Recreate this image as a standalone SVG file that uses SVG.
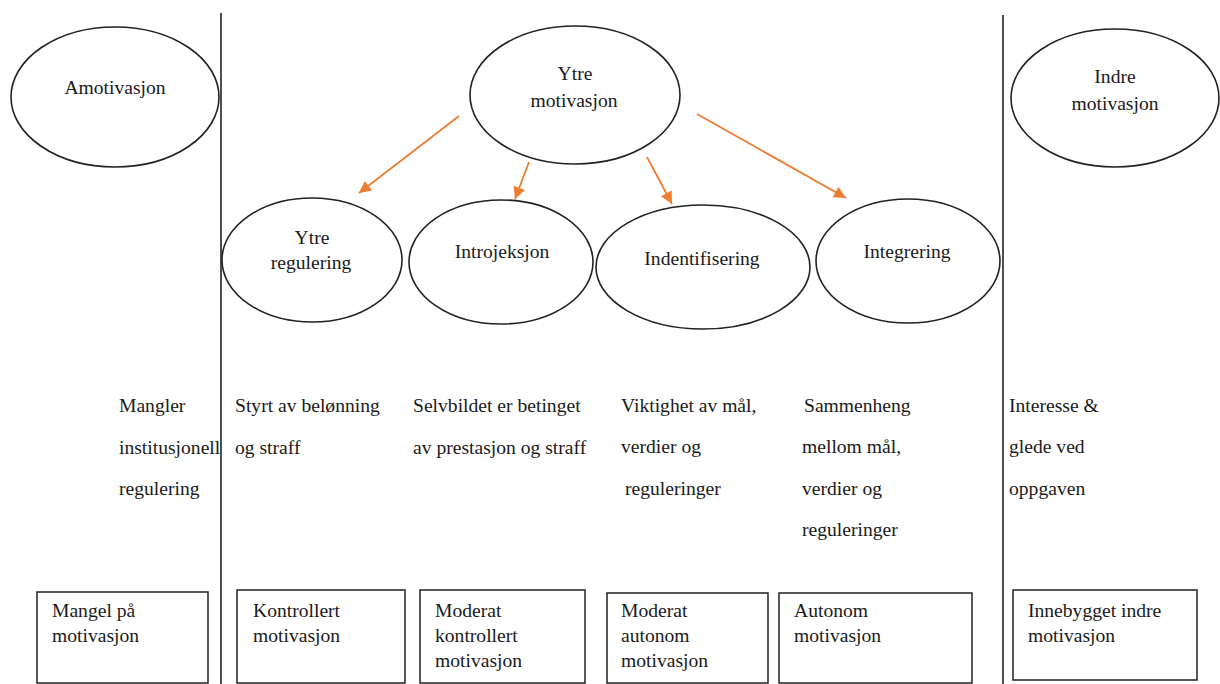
<svg xmlns="http://www.w3.org/2000/svg" width="1220" height="684" viewBox="0 0 1220 684">
<defs>
<marker id="ah" viewBox="0 0 10 10" refX="10" refY="5" markerWidth="15" markerHeight="12" markerUnits="userSpaceOnUse" orient="auto">
<path d="M0,0 L10,5 L0,10 z" fill="#ED7D31"/>
</marker>
<style>
.t{font-family:"Liberation Serif","Times New Roman",serif;font-size:19.6px;fill:#1a1a1a}
.c{text-anchor:middle}
.e{fill:none;stroke:#222;stroke-width:1.6}
.b{fill:#fff;stroke:#222;stroke-width:1.5}
.v{stroke:#222;stroke-width:1.6}
.a{stroke:#ED7D31;stroke-width:1.8;fill:none}
</style>
</defs>
<rect width="1220" height="684" fill="#fff"/>
<g id="dividers">
<line class="v" x1="221" y1="13" x2="221" y2="684"/>
<line class="v" x1="1003" y1="15" x2="1003" y2="684"/>
</g>
<g id="connectors">
<line class="a" x1="459" y1="116" x2="359" y2="193" marker-end="url(#ah)"/>
<line class="a" x1="529" y1="162" x2="515" y2="199" marker-end="url(#ah)"/>
<line class="a" x1="647" y1="157" x2="672" y2="204" marker-end="url(#ah)"/>
<line class="a" x1="697" y1="114" x2="846" y2="198" marker-end="url(#ah)"/>
</g>
<g id="n-amotivasjon">
<ellipse class="e" cx="115" cy="97" rx="104" ry="70"/>
<text class="t c" x="115" y="94">Amotivasjon</text>
</g>
<g id="n-ytre-motivasjon">
<ellipse class="e" cx="575" cy="95" rx="105" ry="69"/>
<text class="t c" x="575" y="80">Ytre</text>
<text class="t c" x="574" y="107">motivasjon</text>
</g>
<g id="n-indre-motivasjon">
<ellipse class="e" cx="1115" cy="98" rx="104" ry="69"/>
<text class="t c" x="1115" y="83">Indre</text>
<text class="t c" x="1115" y="110">motivasjon</text>
</g>
<g id="n-ytre-regulering">
<ellipse class="e" cx="312" cy="260" rx="90" ry="62"/>
<text class="t c" x="312" y="244">Ytre</text>
<text class="t c" x="311" y="269">regulering</text>
</g>
<g id="n-introjeksjon">
<ellipse class="e" cx="501" cy="262" rx="92" ry="62"/>
<text class="t c" x="502" y="258">Introjeksjon</text>
</g>
<g id="n-indentifisering">
<ellipse class="e" cx="703" cy="267" rx="107" ry="62"/>
<text class="t c" x="702" y="265">Indentifisering</text>
</g>
<g id="n-integrering">
<ellipse class="e" cx="908" cy="261" rx="92" ry="62"/>
<text class="t c" x="907" y="258">Integrering</text>
</g>
<g id="desc-amotivasjon">
<text class="t" x="119" y="412">Mangler</text>
<text class="t" x="119" y="454">institusjonell</text>
<text class="t" x="119" y="495">regulering</text>
</g>
<g id="desc-ytre">
<text class="t" x="235" y="412">Styrt av belønning</text>
<text class="t" x="235" y="454">og straff</text>
</g>
<g id="desc-introjeksjon">
<text class="t" x="413" y="412">Selvbildet er betinget</text>
<text class="t" x="413" y="454">av prestasjon og straff</text>
</g>
<g id="desc-identifisering">
<text class="t" x="621" y="412">Viktighet av mål,</text>
<text class="t" x="621" y="453">verdier og</text>
<text class="t" x="625" y="495">reguleringer</text>
</g>
<g id="desc-integrering">
<text class="t" x="804" y="412">Sammenheng</text>
<text class="t" x="802" y="453">mellom mål,</text>
<text class="t" x="802" y="495">verdier og</text>
<text class="t" x="802" y="536">reguleringer</text>
</g>
<g id="desc-indre">
<text class="t" x="1009" y="412">Interesse &amp;</text>
<text class="t" x="1009" y="453">glede ved</text>
<text class="t" x="1009" y="495">oppgaven</text>
</g>
<g id="box-mangel">
<rect class="b" x="37" y="592" width="171" height="91"/>
<text class="t" x="52" y="617">Mangel på</text>
<text class="t" x="52" y="642">motivasjon</text>
</g>
<g id="box-kontrollert">
<rect class="b" x="237" y="590" width="168" height="93"/>
<text class="t" x="253" y="617">Kontrollert</text>
<text class="t" x="253" y="642">motivasjon</text>
</g>
<g id="box-moderat-kontrollert">
<rect class="b" x="420" y="590" width="165" height="93"/>
<text class="t" x="435" y="617">Moderat</text>
<text class="t" x="435" y="642">kontrollert</text>
<text class="t" x="435" y="667">motivasjon</text>
</g>
<g id="box-moderat-autonom">
<rect class="b" x="607" y="593" width="161" height="90"/>
<text class="t" x="621" y="617">Moderat</text>
<text class="t" x="621" y="642">autonom</text>
<text class="t" x="621" y="667">motivasjon</text>
</g>
<g id="box-autonom">
<rect class="b" x="779" y="593" width="193" height="90"/>
<text class="t" x="794" y="617">Autonom</text>
<text class="t" x="794" y="642">motivasjon</text>
</g>
<g id="box-innebygget">
<rect class="b" x="1013" y="590" width="184" height="90"/>
<text class="t" x="1028" y="617">Innebygget indre</text>
<text class="t" x="1028" y="642">motivasjon</text>
</g>
</svg>
